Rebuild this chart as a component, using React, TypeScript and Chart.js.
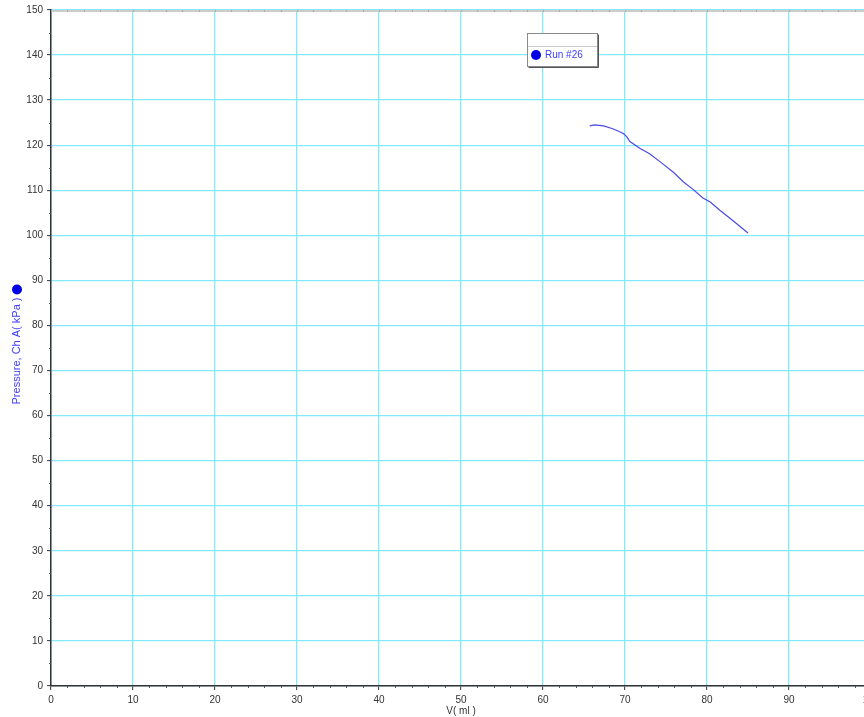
import React, { useEffect, useRef } from "react";
import { Chart, registerables } from "chart.js";

Chart.register(...registerables);

// Volume (ml) and pressure (kPa)
const volumeMl = [65.7, 66.3, 67.4, 68.6, 69.8, 70.2, 70.6, 71.8, 73.0, 74.3, 75.9, 77.1, 78.3, 79.5, 80.4, 81.6, 82.8, 84.0, 85.0];
const pressureKPa = [124.3, 124.5, 124.3, 123.6, 122.6, 121.9, 120.8, 119.3, 118.1, 116.3, 114.0, 111.9, 110.2, 108.3, 107.4, 105.5, 103.8, 102.0, 100.5];

const seriesName = "Run #26";
const xTitle = "V( ml )";
const yTitle = "Pressure, Ch A( kPa )";
const xRange = [0, 100];
const yRange = [0, 150];
const majorStep = 10;
const xMinorStep = 2;
const yMinorStep = 5;

const FONT = "'Liberation Sans', Arial, sans-serif";
const CYAN = "#84e9ff";
const AXIS = "#333333";
const BLUE = "#0000e6";
const TEXT_BLUE = "#3c3cff";

const decorPlugin = {
  id: "decor",
  afterDraw(chart: any) {
    const { ctx, chartArea, scales } = chart;
    const xs = scales.x;
    const ys = scales.y;
    ctx.save();
    // top frame line
    ctx.strokeStyle = "#cccccc";
    ctx.lineWidth = 2;
    ctx.beginPath();
    ctx.moveTo(chartArea.left, chartArea.top + 1);
    ctx.lineTo(chartArea.right, chartArea.top + 1);
    ctx.stroke();
    // minor ticks
    ctx.lineWidth = 1;
    for (let v = xRange[0]; v <= xRange[1]; v += xMinorStep) {
      const px = Math.round(xs.getPixelForValue(v)) + 0.5;
      ctx.strokeStyle = "#aaa";
      ctx.beginPath();
      ctx.moveTo(px, chartArea.top);
      ctx.lineTo(px, chartArea.top + 2);
      ctx.stroke();
      if (v % majorStep === 0) continue;
      ctx.strokeStyle = "#555";
      ctx.beginPath();
      ctx.moveTo(px, chartArea.bottom);
      ctx.lineTo(px, chartArea.bottom + 2);
      ctx.stroke();
    }
    ctx.strokeStyle = "#555";
    for (let v = yRange[0]; v <= yRange[1]; v += yMinorStep) {
      if (v % majorStep === 0) continue;
      const py = Math.round(ys.getPixelForValue(v)) + 0.5;
      ctx.beginPath();
      ctx.moveTo(chartArea.left, py);
      ctx.lineTo(chartArea.left - 2, py);
      ctx.stroke();
    }
    // y title with marker
    const cy = (chartArea.top + chartArea.bottom) / 2;
    ctx.save();
    ctx.translate(17, cy + 3);
    ctx.rotate(-Math.PI / 2);
    ctx.font = `11px ${FONT}`;
    ctx.fillStyle = TEXT_BLUE;
    ctx.textAlign = "center";
    ctx.textBaseline = "middle";
    ctx.fillText(yTitle, 0, 0);
    const tw = ctx.measureText(yTitle).width;
    ctx.restore();
    ctx.beginPath();
    ctx.fillStyle = BLUE;
    ctx.arc(17, cy + 3 - tw / 2 - 8, 5, 0, Math.PI * 2);
    ctx.fill();
    // x title
    ctx.font = `10px ${FONT}`;
    ctx.fillStyle = "#333";
    ctx.textAlign = "center";
    ctx.textBaseline = "middle";
    ctx.fillText(xTitle, (chartArea.left + chartArea.right) / 2, 711);
    // legend box
    const bx = 527.5, by = 33.5, bw = 70, bh = 33;
    ctx.fillStyle = "#ffffff";
    ctx.fillRect(bx, by, bw, bh);
    ctx.strokeStyle = "#c8c8c8";
    ctx.beginPath();
    ctx.moveTo(bx, by + 13);
    ctx.lineTo(bx + bw, by + 13);
    ctx.stroke();
    ctx.strokeStyle = "#8a8a8a";
    ctx.strokeRect(bx, by, bw, bh);
    ctx.strokeStyle = "#555";
    ctx.beginPath();
    ctx.moveTo(bx + 1, by + bh + 1);
    ctx.lineTo(bx + bw + 1, by + bh + 1);
    ctx.lineTo(bx + bw + 1, by + 1);
    ctx.stroke();
    ctx.beginPath();
    ctx.fillStyle = BLUE;
    ctx.arc(536, 55, 5, 0, Math.PI * 2);
    ctx.fill();
    ctx.font = `10px ${FONT}`;
    ctx.fillStyle = TEXT_BLUE;
    ctx.textAlign = "left";
    ctx.fillText(seriesName, 545, 55.5);
    ctx.restore();
  },
};

export default function App() {
  const ref = useRef<HTMLCanvasElement | null>(null);
  useEffect(() => {
    if (!ref.current) return;
    const chart = new Chart(ref.current, {
      type: "scatter",
      data: {
        datasets: [
          {
            label: seriesName,
            data: volumeMl.map((x, i) => ({ x, y: pressureKPa[i] })),
            showLine: true,
            borderColor: "#4a4ae6",
            borderWidth: 1.2,
            pointRadius: 0,
            tension: 0,
          },
        ],
      },
      options: {
        animation: false,
        responsive: false,
        devicePixelRatio: 1,
        layout: { padding: { top: 8, right: 29, left: 0, bottom: 0 } },
        plugins: { legend: { display: false }, tooltip: { enabled: false } },
        scales: {
          x: {
            type: "linear",
            min: xRange[0],
            max: xRange[1],
            afterFit: (s: any) => {
              s.height = 31;
            },
            ticks: {
              stepSize: majorStep,
              maxRotation: 0,
              padding: 4,
              color: "#333",
              font: { size: 10, family: FONT },
            },
            grid: {
              color: CYAN,
              lineWidth: 1.3,
              tickLength: 4,
              tickColor: AXIS,
              tickWidth: 1,
            },
            border: { display: true, color: AXIS, width: 1.5 },
          },
          y: {
            type: "linear",
            min: yRange[0],
            max: yRange[1],
            afterFit: (s: any) => {
              s.width = 51;
            },
            ticks: {
              stepSize: majorStep,
              padding: 4,
              color: "#333",
              font: { size: 10, family: FONT },
            },
            grid: {
              color: CYAN,
              lineWidth: 1.3,
              tickLength: 4,
              tickColor: AXIS,
              tickWidth: 1,
            },
            border: { display: true, color: AXIS, width: 1.5 },
          },
        },
      },
      plugins: [decorPlugin],
    } as any);
    return () => chart.destroy();
  }, []);
  return (
    <div style={{ position: "fixed", left: 0, top: 0, width: 864, height: 717, overflow: "hidden", background: "#fff" }}>
      <canvas ref={ref} width={900} height={717} style={{ display: "block", width: 900, height: 717 }} />
    </div>
  );
}
